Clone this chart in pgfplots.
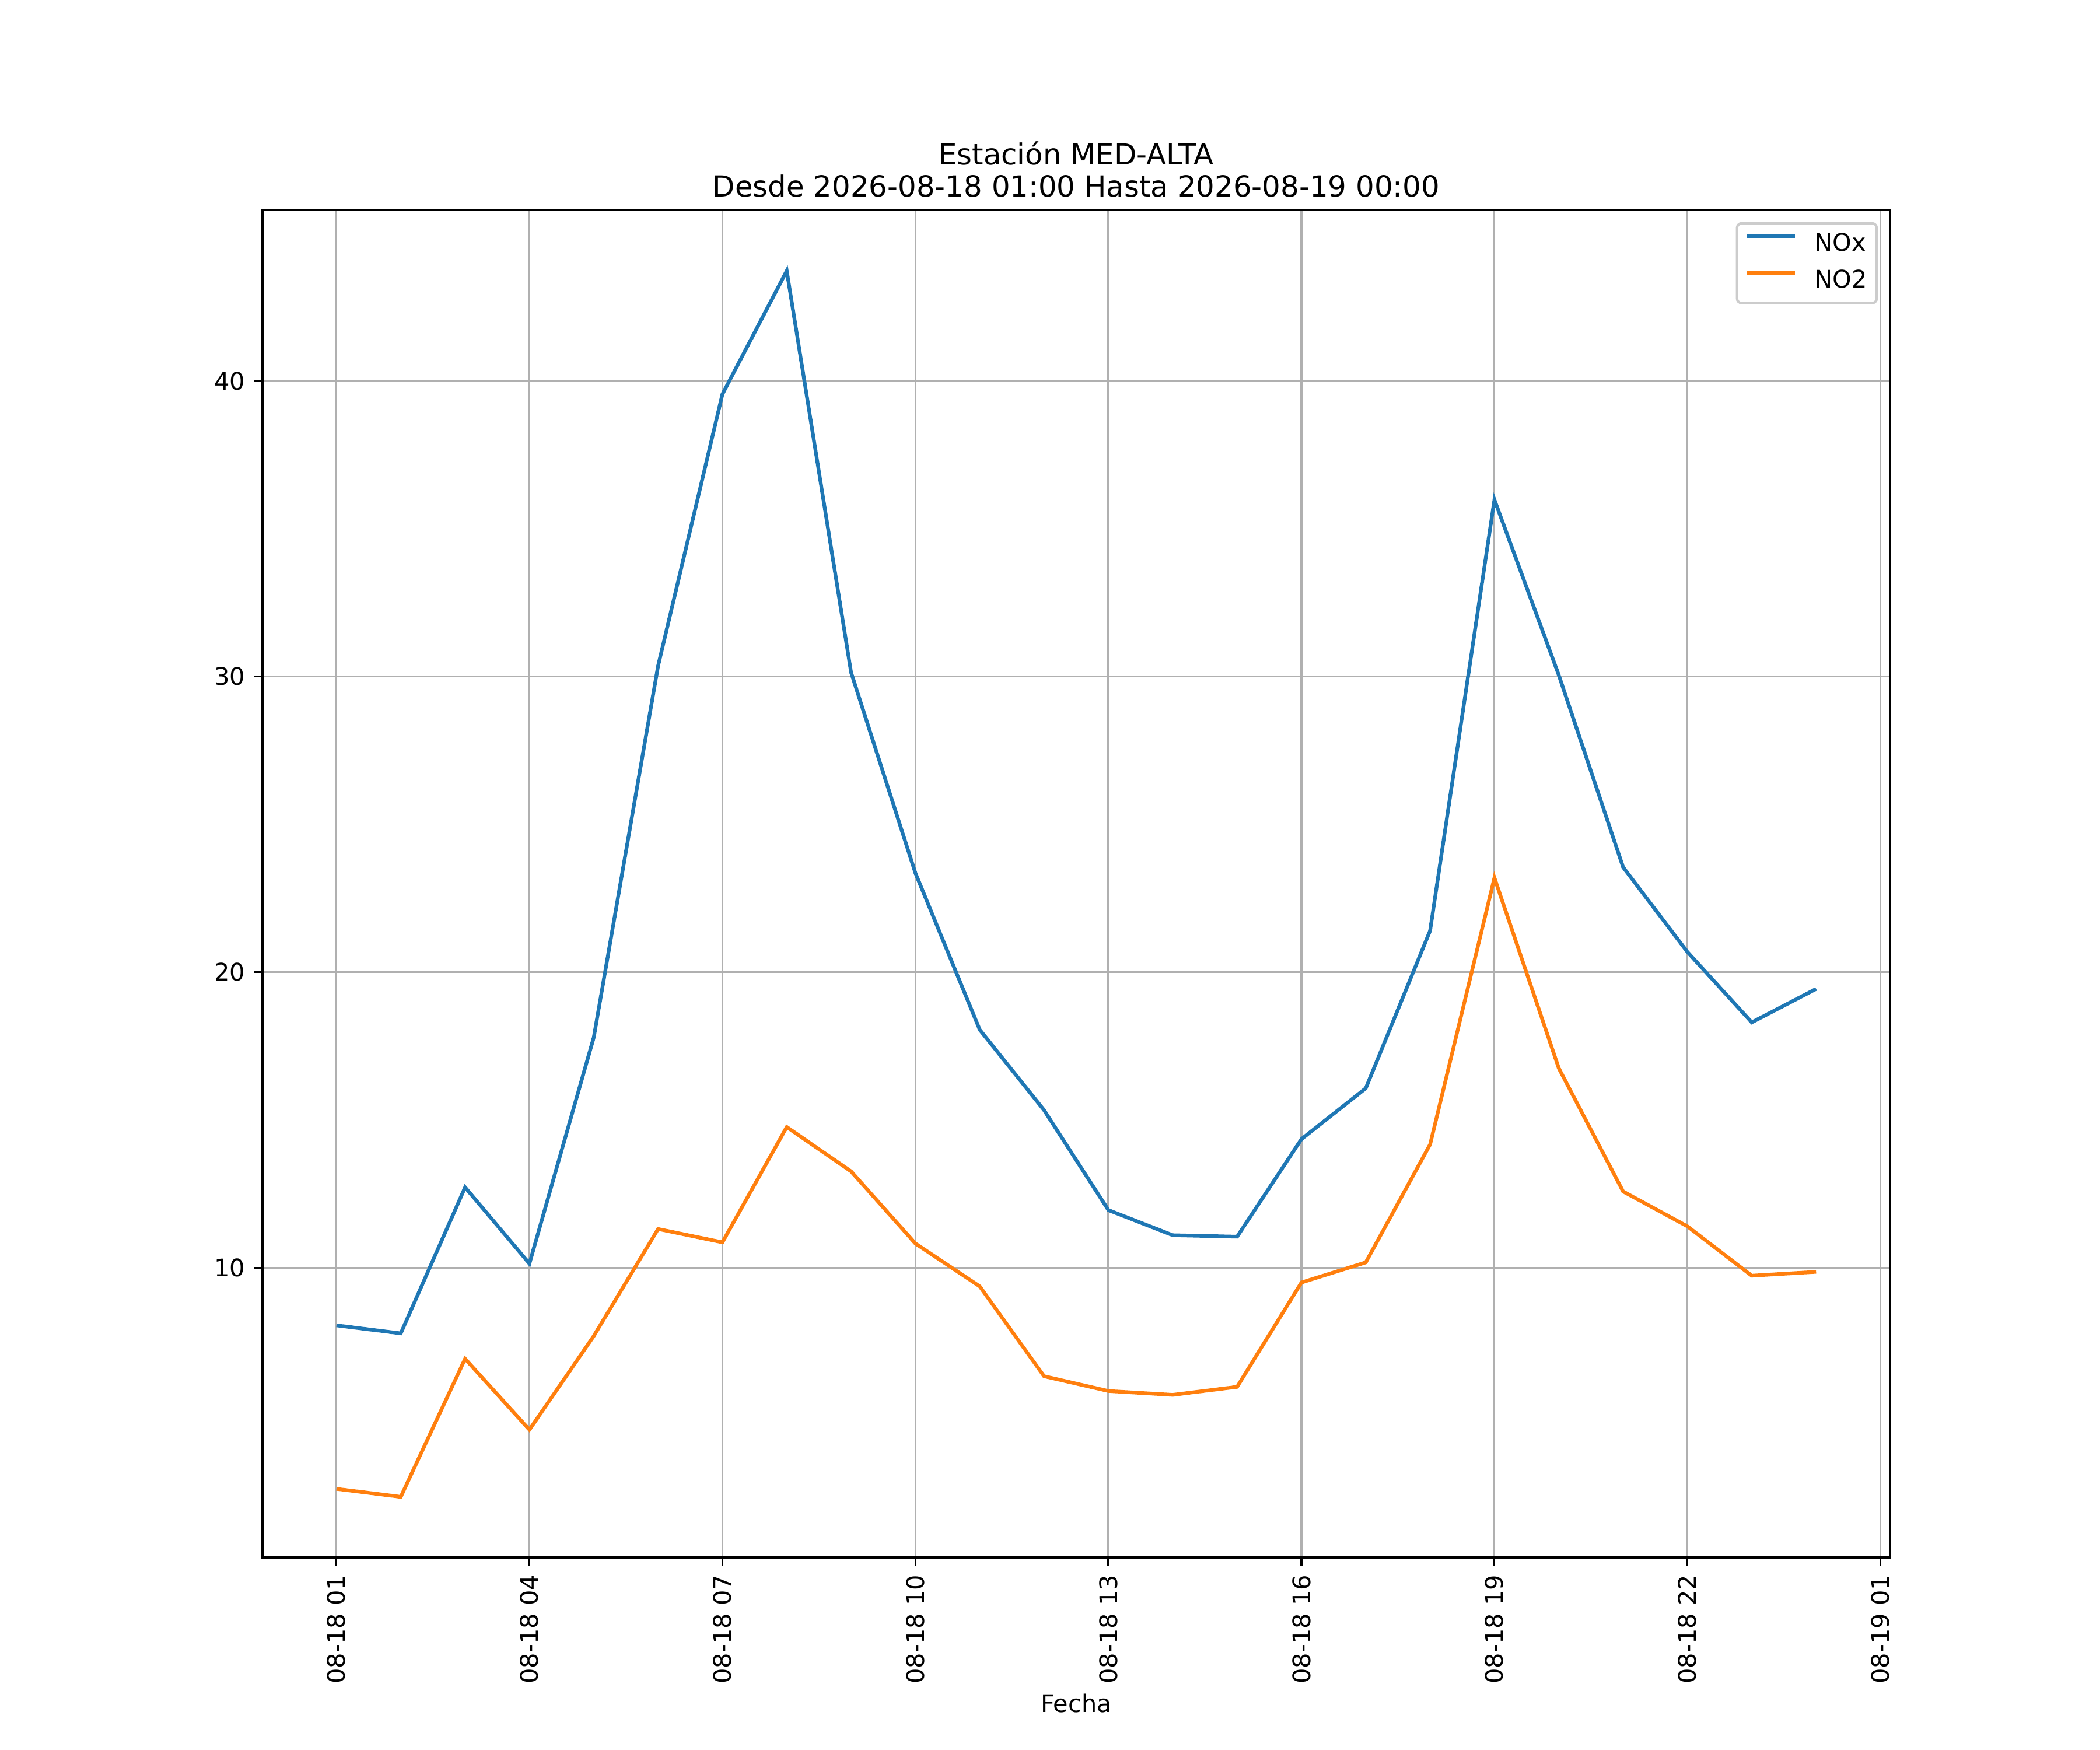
\documentclass[border=0pt]{standalone}
\usepackage{fontspec}
\setmainfont{DejaVu Sans}
\usepackage{pgfplots}
\usepackage{pgfplotstable}
\pgfplotsset{compat=1.18}
\definecolor{cA}{HTML}{1F77B4}
\definecolor{cB}{HTML}{FF7F0E}
\definecolor{gridc}{HTML}{B0B0B0}
\definecolor{legc}{HTML}{CCCCCC}

\pgfplotstableread{
h nox no2
1 8.05 2.52
2 7.78 2.25
3 12.72 6.92
4 10.14 4.52
5 17.79 7.69
6 30.36 11.31
7 39.55 10.86
8 43.72 14.76
9 30.14 13.26
10 23.35 10.82
11 18.05 9.37
12 15.33 6.33
13 11.95 5.83
14 11.10 5.70
15 11.05 5.97
16 14.35 9.50
17 16.07 10.18
18 21.40 14.17
19 35.98 23.19
20 30.05 16.75
21 23.55 12.58
22 20.68 11.40
23 18.30 9.73
24 19.43 9.86
}\datatab

\begin{document}
\begin{tikzpicture}
\path[use as bounding box] (0,0) rectangle (12in,10in);
\begin{axis}[
  at={(1.5in,1.1in)}, anchor=south west,
  scale only axis, width=9.3in, height=7.7in,
  xmin=-0.15, xmax=25.15, ymin=0.2, ymax=45.78,
  xtick={1,4,7,10,13,16,19,22,25},
  xticklabels={08-18 01,08-18 04,08-18 07,08-18 10,08-18 13,08-18 16,08-18 19,08-18 22,08-19 01},
  ytick={10,20,30,40},
  /pgf/number format/assume math mode=true,
  grid=major,
  major grid style={gridc, line width=0.8pt},
  axis line style={line width=0.8pt},
  tick align=outside, xtick pos=bottom, ytick pos=left,
  major tick length=3.5pt,
  every tick/.style={black, line width=0.8pt},
  tick label style={font=\fontsize{10}{12}\selectfont},
  xticklabel style={rotate=90, anchor=east, inner sep=0pt},
  yticklabel style={anchor=east, inner sep=0pt},
  xticklabel shift=3.5pt, yticklabel shift=3.5pt,
  xlabel={Fecha},
  xlabel style={font=\fontsize{10}{12}\selectfont, inner sep=0pt, yshift=-4pt},
  title={Estación MED-ALTA\\Desde 2026-08-18 01:00 Hasta 2026-08-19 00:00},
  title style={at={(0.5,1)}, anchor=south, yshift=-1pt, inner sep=0pt, align=center, font=\fontsize{12}{13.3}\selectfont},
  legend style={at={(1,1)}, anchor=north east, xshift=-5pt, yshift=-5pt,
    draw=legc, line width=1pt, rounded corners=2pt, fill=white,
    inner xsep=4pt, inner ysep=4pt, row sep=5pt, column sep=8pt,
    font=\fontsize{10}{12}\selectfont,
    nodes={inner sep=0pt, text height=7.6pt, text depth=2.4pt}},
  legend cell align=left,
  legend image code/.code={\draw[#1, line width=1.5pt, line cap=rect, rounded corners=0pt] (0.75pt,3.6pt) -- (19.25pt,3.6pt);},
]
\addplot[cA, line width=1.5pt] table[x=h, y=nox] {\datatab};
\addlegendentry{NOx}
\addplot[cB, line width=1.5pt] table[x=h, y=no2] {\datatab};
\addlegendentry{NO2}
\end{axis}
\end{tikzpicture}
\end{document}
